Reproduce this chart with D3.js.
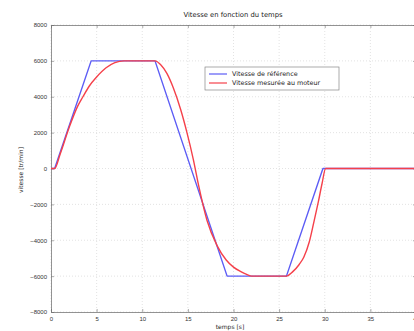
<!DOCTYPE html>
<html>
<head>
<meta charset="utf-8">
<script src="https://cdn.jsdelivr.net/npm/d3@7"></script>
<style>
  body { margin: 0; background: #fff; }
  svg { display: block; font-family: "DejaVu Sans", sans-serif; }
</style>
</head>
<body>
<div id="chart"></div>
<script>
// reference speed (trapezoidal profile)
const refTime = [0, 0.4, 4.4, 11.4, 19.3, 25.8, 29.8, 40];
const refSpeed = [0, 0, 6000, 6000, -6000, -6000, 0, 0];

// speed measured on the motor
const motTime = [0, 0.4, 1, 2, 2.9, 3.5, 4.2, 5, 6, 7, 8, 11.4, 12, 12.7, 13.4, 14.2, 14.9, 15.6, 16.2,
  17.1, 18.2, 19.2, 20, 20.8, 21.5, 22, 25.8, 26.5, 27.2, 27.7, 28.3, 28.8, 29.3, 29.7, 30.1, 40];
const motSpeed = [0, 0, 800, 2300, 3450, 4000, 4600, 5100, 5600, 5900, 6000, 6000, 5800, 5300, 4500, 3300,
  2000, 500, -1000, -2900, -4300, -5100, -5500, -5750, -5920, -6000, -6000, -5750, -5350, -4950, -4100,
  -3000, -1850, -850, 0, 0];

const xTicks = [0, 5, 10, 15, 20, 25, 30, 35, 40];
const yTicks = [-8000, -6000, -4000, -2000, 0, 2000, 4000, 6000, 8000];
const legendLabels = ['Vitesse de référence', 'Vitesse mesurée au moteur'];

const width = 414;
const height = 331;
const margin = { top: 25, right: -2, bottom: 19, left: 51 };
const blue = '#5c5cf5';
const red = '#f5404a';

const svg = d3.select('#chart')
  .append('svg')
  .attr('width', width)
  .attr('height', height);

const x = d3.scaleLinear().domain([0, 40]).range([margin.left, width - margin.right]);
const y = d3.scaleLinear().domain([-8000, 8000]).range([height - margin.bottom, margin.top]);

// grid
const grid = svg.append('g')
  .attr('stroke', '#d0d0d0')
  .attr('stroke-width', 0.6)
  .attr('stroke-dasharray', '1,2');
grid.selectAll('.vx')
  .data(xTicks)
  .join('line')
  .attr('x1', (d) => x(d)).attr('x2', (d) => x(d))
  .attr('y1', y(8000)).attr('y2', y(-8000));
grid.selectAll('.hy')
  .data(yTicks)
  .join('line')
  .attr('x1', x(0)).attr('x2', x(40))
  .attr('y1', (d) => y(d)).attr('y2', (d) => y(d));

// axes
svg.append('g')
  .attr('transform', `translate(0,${y(-8000)})`)
  .call(d3.axisBottom(x).tickValues(xTicks).tickSize(-3).tickPadding(5));
svg.append('g')
  .attr('transform', `translate(${x(0)},0)`)
  .call(d3.axisLeft(y).tickValues(yTicks).tickSize(-3).tickPadding(4).tickFormat(d3.format('d')));
svg.append('g')
  .attr('transform', `translate(0,${y(8000)})`)
  .call(d3.axisTop(x).tickValues(xTicks).tickSize(-3).tickFormat(''));
svg.append('g')
  .attr('transform', `translate(${x(40)},0)`)
  .call(d3.axisRight(y).tickValues(yTicks).tickSize(-3).tickFormat(''));

svg.selectAll('.domain').attr('stroke', '#777').attr('stroke-width', 0.8);
svg.selectAll('.tick line').attr('stroke', '#777').attr('stroke-width', 0.6);
svg.selectAll('.tick text').attr('fill', '#333').attr('font-size', 6);

// series
const line = d3.line()
  .x((d) => x(d[0]))
  .y((d) => y(d[1]));

svg.append('path')
  .datum(d3.zip(refTime, refSpeed))
  .attr('fill', 'none')
  .attr('stroke', blue)
  .attr('stroke-width', 1.4)
  .attr('stroke-linejoin', 'round')
  .attr('d', line);

svg.append('path')
  .datum(d3.zip(motTime, motSpeed))
  .attr('fill', 'none')
  .attr('stroke', red)
  .attr('stroke-width', 1.4)
  .attr('stroke-linejoin', 'round')
  .attr('d', line.curve(d3.curveMonotoneX));

// title and axis labels
svg.append('text')
  .attr('x', 233)
  .attr('y', 17)
  .attr('text-anchor', 'middle')
  .attr('font-size', 6.8)
  .attr('fill', '#222')
  .text('Vitesse en fonction du temps');

svg.append('text')
  .attr('transform', 'translate(23,170) rotate(-90)')
  .attr('text-anchor', 'middle')
  .attr('font-size', 6)
  .attr('fill', '#222')
  .text('vitesse [tr/min]');

svg.append('text')
  .attr('x', 230)
  .attr('y', 329)
  .attr('text-anchor', 'middle')
  .attr('font-size', 6)
  .attr('fill', '#222')
  .text('temps [s]');

// legend
const legend = svg.append('g').attr('transform', 'translate(205,67)');
legend.append('rect')
  .attr('width', 134)
  .attr('height', 23)
  .attr('fill', '#fff')
  .attr('stroke', '#888')
  .attr('stroke-width', 0.7);
const rows = legend.selectAll('.row')
  .data(legendLabels)
  .join('g')
  .attr('transform', (d, i) => `translate(0,${7 + i * 9})`);
rows.append('line')
  .attr('x1', 4).attr('x2', 22)
  .attr('stroke', (d, i) => (i === 0 ? blue : red))
  .attr('stroke-width', 1.2);
rows.append('text')
  .attr('x', 27)
  .attr('y', 2.2)
  .attr('font-size', 6.4)
  .attr('fill', '#222')
  .text((d) => d);
</script>
</body>
</html>
